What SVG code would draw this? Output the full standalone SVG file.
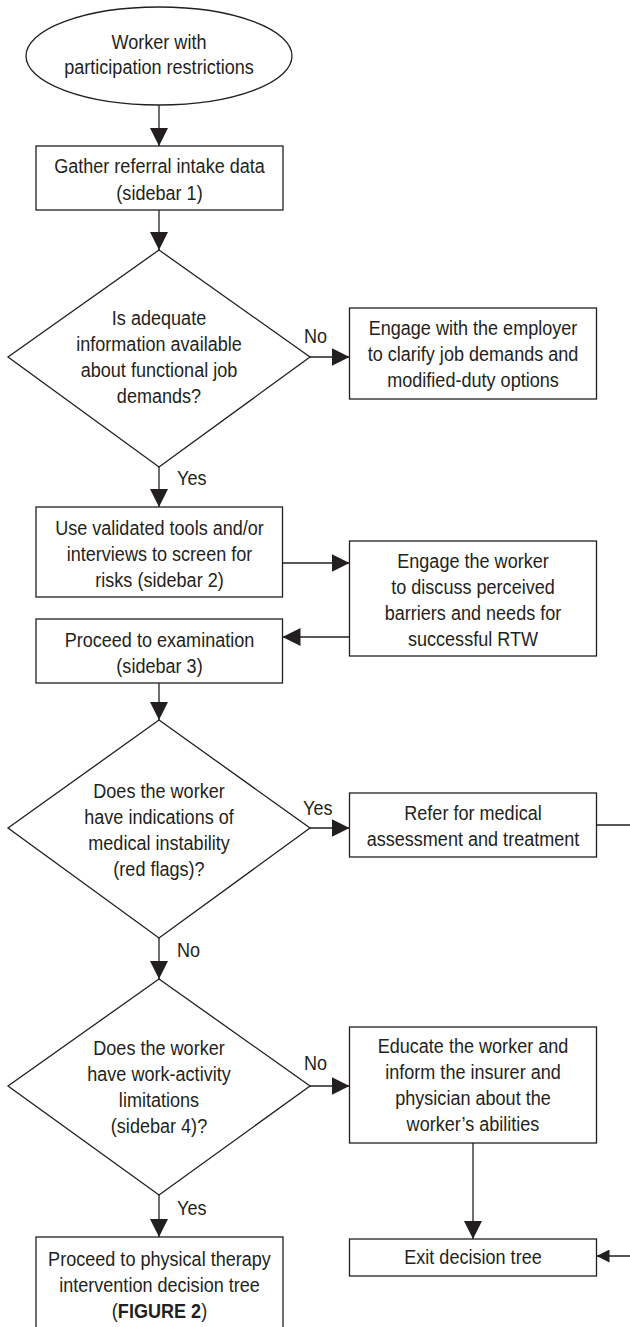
<svg xmlns="http://www.w3.org/2000/svg" width="630" height="1327" viewBox="0 0 630 1327">
<style>
  .shape { fill: #ffffff; stroke: #231f20; stroke-width: 1.3; }
  .conn { fill: none; stroke: #231f20; stroke-width: 1.3; }
  text { font-family: "Liberation Sans Narrow", "Liberation Sans", Arial, sans-serif; font-size: 21px; fill: #231f20; }
  .c { text-anchor: middle; }
  .b { font-weight: bold; }
</style>
<defs>
  <marker id="ah" markerUnits="userSpaceOnUse" markerWidth="18" markerHeight="18" refX="18" refY="9" orient="auto">
    <path d="M0,0 L18,9 L0,18 Z" fill="#231f20"/>
  </marker>
  <marker id="ahs" markerUnits="userSpaceOnUse" markerWidth="13" markerHeight="13" refX="13" refY="6.5" orient="auto">
    <path d="M0,0 L13,6.5 L0,13 Z" fill="#231f20"/>
  </marker>
</defs>
<rect width="630" height="1327" fill="#ffffff"/>

<g id="connectors">
  <path class="conn" d="M159,105 V146" marker-end="url(#ah)"/>
  <path class="conn" d="M159,210 V250" marker-end="url(#ah)"/>
  <path class="conn" d="M310,357 H349.5" marker-end="url(#ah)"/>
  <path class="conn" d="M159,467 V507" marker-end="url(#ah)"/>
  <path class="conn" d="M282.5,563 H349.5" marker-end="url(#ah)"/>
  <path class="conn" d="M349.5,637 H282.5" marker-end="url(#ah)"/>
  <path class="conn" d="M159,683 V720" marker-end="url(#ah)"/>
  <path class="conn" d="M310,828 H349.5" marker-end="url(#ah)"/>
  <path class="conn" d="M596.5,825 H640 V1256 H596.5" marker-end="url(#ahs)"/>
  <path class="conn" d="M159,938 V979" marker-end="url(#ah)"/>
  <path class="conn" d="M310,1086 H349.5" marker-end="url(#ah)"/>
  <path class="conn" d="M473,1143 V1239" marker-end="url(#ah)"/>
  <path class="conn" d="M159,1195 V1237" marker-end="url(#ah)"/>
  <g transform="translate(304 0) scale(0.86 1)"><text x="0" y="343">No</text></g>
  <g transform="translate(177 0) scale(0.86 1)"><text x="0" y="485">Yes</text></g>
  <g transform="translate(303 0) scale(0.86 1)"><text x="0" y="815">Yes</text></g>
  <g transform="translate(177 0) scale(0.86 1)"><text x="0" y="957">No</text></g>
  <g transform="translate(304 0) scale(0.86 1)"><text x="0" y="1070">No</text></g>
  <g transform="translate(177 0) scale(0.86 1)"><text x="0" y="1215">Yes</text></g>
</g>

<g id="start">
  <ellipse class="shape" cx="159" cy="56" rx="133" ry="49"/>
  <g transform="translate(159 0) scale(0.86 1)">
    <text class="c" x="0" y="49">Worker with</text>
    <text class="c" x="0" y="74">participation restrictions</text>
  </g>
</g>

<g id="gather">
  <rect class="shape" x="36" y="146" width="247" height="64"/>
  <g transform="translate(159.5 0) scale(0.86 1)">
    <text class="c" x="0" y="173">Gather referral intake data</text>
    <text class="c" x="0" y="200">(sidebar 1)</text>
  </g>
</g>

<g id="decision-info">
  <polygon class="shape" points="159,250 310,357 159,467 8,357"/>
  <g transform="translate(159 0) scale(0.86 1)">
    <text class="c" x="0" y="325">Is adequate</text>
    <text class="c" x="0" y="351">information available</text>
    <text class="c" x="0" y="377">about functional job</text>
    <text class="c" x="0" y="403">demands?</text>
  </g>
</g>

<g id="engage-employer">
  <rect class="shape" x="349.5" y="308" width="247" height="91"/>
  <g transform="translate(473 0) scale(0.86 1)">
    <text class="c" x="0" y="335">Engage with the employer</text>
    <text class="c" x="0" y="361">to clarify job demands and</text>
    <text class="c" x="0" y="387">modified-duty options</text>
  </g>
</g>

<g id="screen">
  <rect class="shape" x="36" y="507" width="246.5" height="90"/>
  <g transform="translate(159.5 0) scale(0.86 1)">
    <text class="c" x="0" y="535">Use validated tools and/or</text>
    <text class="c" x="0" y="561">interviews to screen for</text>
    <text class="c" x="0" y="587">risks (sidebar 2)</text>
  </g>
</g>

<g id="engage-worker">
  <rect class="shape" x="349.5" y="541" width="247" height="115"/>
  <g transform="translate(473 0) scale(0.86 1)">
    <text class="c" x="0" y="568">Engage the worker</text>
    <text class="c" x="0" y="594">to discuss perceived</text>
    <text class="c" x="0" y="620">barriers and needs for</text>
    <text class="c" x="0" y="646">successful RTW</text>
  </g>
</g>

<g id="examination">
  <rect class="shape" x="36" y="619" width="246.5" height="64"/>
  <g transform="translate(159.5 0) scale(0.86 1)">
    <text class="c" x="0" y="647">Proceed to examination</text>
    <text class="c" x="0" y="673">(sidebar 3)</text>
  </g>
</g>

<g id="decision-redflags">
  <polygon class="shape" points="159,720 310,828 159,938 8,828"/>
  <g transform="translate(159 0) scale(0.86 1)">
    <text class="c" x="0" y="798">Does the worker</text>
    <text class="c" x="0" y="824">have indications of</text>
    <text class="c" x="0" y="850">medical instability</text>
    <text class="c" x="0" y="876">(red flags)?</text>
  </g>
</g>

<g id="refer">
  <rect class="shape" x="349.5" y="793" width="247" height="64"/>
  <g transform="translate(473 0) scale(0.86 1)">
    <text class="c" x="0" y="820">Refer for medical</text>
    <text class="c" x="0" y="846">assessment and treatment</text>
  </g>
</g>

<g id="decision-limitations">
  <polygon class="shape" points="159,979 310,1086 159,1195 8,1086"/>
  <g transform="translate(159 0) scale(0.86 1)">
    <text class="c" x="0" y="1055">Does the worker</text>
    <text class="c" x="0" y="1081">have work-activity</text>
    <text class="c" x="0" y="1107">limitations</text>
    <text class="c" x="0" y="1133">(sidebar 4)?</text>
  </g>
</g>

<g id="educate">
  <rect class="shape" x="349.5" y="1027" width="247" height="116"/>
  <g transform="translate(473 0) scale(0.86 1)">
    <text class="c" x="0" y="1053">Educate the worker and</text>
    <text class="c" x="0" y="1079">inform the insurer and</text>
    <text class="c" x="0" y="1105">physician about the</text>
    <text class="c" x="0" y="1131">worker’s abilities</text>
  </g>
</g>

<g id="exit">
  <rect class="shape" x="349.5" y="1239" width="247" height="37"/>
  <g transform="translate(473 0) scale(0.86 1)">
    <text class="c" x="0" y="1264">Exit decision tree</text>
  </g>
</g>

<g id="proceed-pt">
  <rect class="shape" x="36" y="1237" width="247" height="95"/>
  <g transform="translate(159.5 0) scale(0.86 1)">
    <text class="c" x="0" y="1266">Proceed to physical therapy</text>
    <text class="c" x="0" y="1292">intervention decision tree</text>
    <text class="c" x="0" y="1318">(<tspan class="b">FIGURE 2</tspan>)</text>
  </g>
</g>
</svg>
